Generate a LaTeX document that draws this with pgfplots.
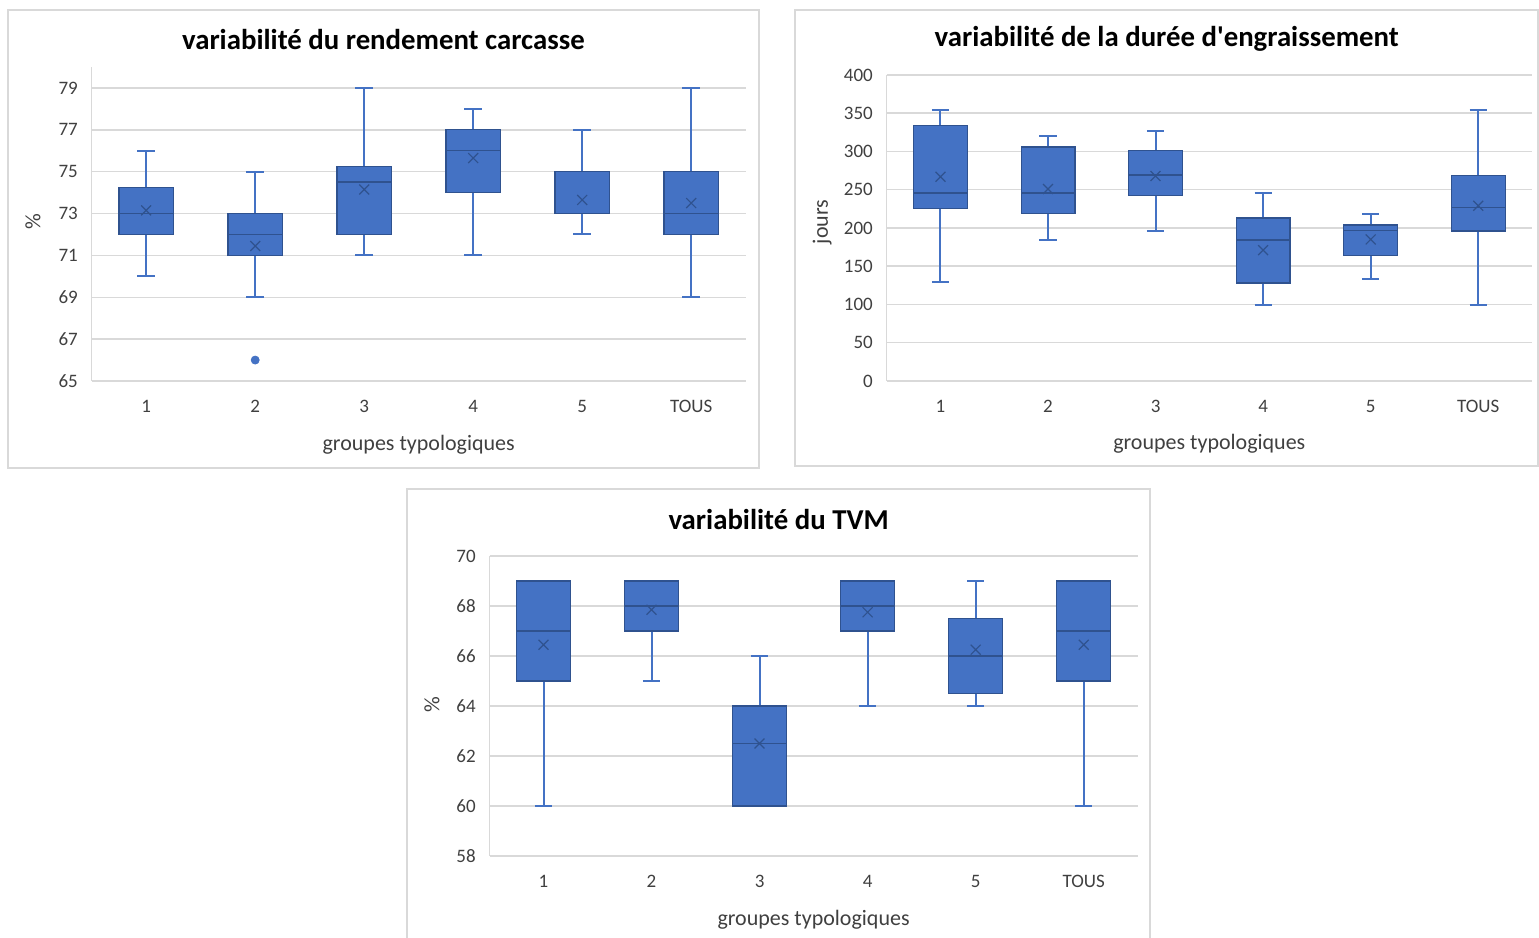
\documentclass[border=0pt]{standalone}
\usepackage{fontspec}
\setmainfont{Carlito}[Ligatures=TeXOff]
\usepackage{pgfplots}
\pgfplotsset{compat=1.18}
\definecolor{bxfill}{HTML}{4472C4}
\definecolor{bxdark}{HTML}{2F528F}
\definecolor{gridc}{HTML}{D9D9D9}
\definecolor{txt}{HTML}{404040}

% \bx{position}{lower whisker}{lower quartile}{median}{upper quartile}{upper whisker}
\newcommand{\bx}[6]{%
  \pgfmathsetmacro\bxl{#1-0.25}\pgfmathsetmacro\bxr{#1+0.25}%
  \pgfmathsetmacro\bcl{#1-0.08}\pgfmathsetmacro\bcr{#1+0.08}%
  \addplot[whisk] coordinates {(#1,#2) (#1,#3)};
  \addplot[whisk] coordinates {(#1,#5) (#1,#6)};
  \addplot[whisk] coordinates {(\bcl,#2) (\bcr,#2)};
  \addplot[whisk] coordinates {(\bcl,#6) (\bcr,#6)};
  \addplot[boxst] coordinates {(\bxl,#3) (\bxr,#3) (\bxr,#5) (\bxl,#5)} -- cycle;
  \addplot[medst] coordinates {(\bxl,#4) (\bxr,#4)};
}

\pgfplotsset{
  whisk/.style={draw=bxfill, line width=1pt, mark=none},
  boxst/.style={fill=bxfill, draw=bxdark, line width=0.6pt, mark=none},
  medst/.style={draw=bxdark, line width=0.75pt, mark=none},
  meanmark/.style={only marks, mark=x, mark size=3.5pt, bxdark, line width=0.6pt},
  xlbox/.style={
    scale only axis,
    xmin=0.5, xmax=6.5,
    xtick={1,...,6}, xticklabels={1,2,3,4,5,TOUS},
    ymajorgrids, grid style={gridc, line width=0.75pt},
    axis x line=bottom, axis y line=left,
    axis line style={gridc, line width=0.75pt, -},
    major tick length=0pt,
    tick label style={font=\fontsize{9.5}{11}\selectfont, text=txt},
    xticklabel style={yshift=-6pt},
    yticklabel style={xshift=-3.4pt},
    label style={font=\fontsize{11}{13}\selectfont, text=txt},
    every axis title shift=0pt,
    title style={font=\fontsize{14.4}{17}\selectfont\bfseries, text=black, anchor=center, yshift=0pt},
    /pgf/number format/assume math mode=true,
  },
}

\begin{document}
\begin{tikzpicture}
\path[use as bounding box, fill=white] (0,0) rectangle (769.5pt,469pt);
\draw[gridc, line width=0.6pt] (4pt,235pt) rectangle (379.5pt,464pt);
\draw[gridc, line width=0.6pt] (397.5pt,236pt) rectangle (769pt,464pt);
\draw[gridc, line width=0.6pt] (203.5pt,-1pt) -- (203.5pt,224.5pt) -- (575pt,224.5pt) -- (575pt,-1pt);

% Panel 1 : rendement carcasse (%)
\begin{axis}[xlbox,
  at={(45.85pt,278.5pt)}, anchor=south west,
  width=327pt, height=157pt,
  ymin=65, ymax=80, ytick={65,67,...,79},
  title={variabilité du rendement carcasse},
  title style={at={(axis description cs:0.446,1.086)}},
  xlabel={groupes typologiques},
  xlabel style={at={(axis description cs:0.5,-0.204)}, anchor=center},
  ylabel={\%},
  ylabel style={at={(axis description cs:-0.09,0.506)}, anchor=center},
]
\bx{1}{70}{72}{73}{74.25}{76}
\bx{2}{69}{71}{72}{73}{75}
\bx{3}{71}{72}{74.5}{75.25}{79}
\bx{4}{71}{74}{76}{77}{78}
\bx{5}{72}{73}{73}{75}{77}
\bx{6}{69}{72}{73}{75}{79}
\addplot[meanmark] coordinates {(1,73.15) (2,71.45) (3,74.15) (4,75.65) (5,73.65) (6,73.5)};
\addplot[only marks, mark=*, mark size=2pt, bxfill] coordinates {(2,66)};
\end{axis}

% Panel 2 : duree d'engraissement (jours)
\begin{axis}[xlbox,
  at={(443.35pt,278.5pt)}, anchor=south west,
  width=322.65pt, height=153pt,
  ymin=0, ymax=400, ytick={0,50,...,400},
  title={variabilité de la durée d'engraissement},
  title style={at={(axis description cs:0.434,1.118)}},
  xlabel={groupes typologiques},
  xlabel style={at={(axis description cs:0.5,-0.206)}, anchor=center},
  ylabel={jours},
  ylabel style={at={(axis description cs:-0.100,0.52)}, anchor=center},
]
\bx{1}{130}{226}{246}{334}{354}
\bx{2}{184}{219}{246}{306}{320}
\bx{3}{196}{243}{269}{301}{327}
\bx{4}{99}{128}{184}{213}{246}
\bx{5}{133}{164}{197}{204}{218}
\bx{6}{99}{196}{227}{269}{354}
\addplot[meanmark] coordinates {(1,267) (2,251) (3,268) (4,171) (5,185) (6,229)};
\end{axis}

% Panel 3 : TVM (%)
\begin{axis}[xlbox,
  at={(244.75pt,41pt)}, anchor=south west,
  width=324.1pt, height=150pt,
  ymin=58, ymax=70, ytick={58,60,...,70},
  title={variabilité du TVM},
  title style={at={(axis description cs:0.446,1.123)}},
  xlabel={groupes typologiques},
  xlabel style={at={(axis description cs:0.5,-0.213)}, anchor=center},
  ylabel={\%},
  ylabel style={at={(axis description cs:-0.0887,0.503)}, anchor=center},
]
\bx{1}{60}{65}{67}{69}{69}
\bx{2}{65}{67}{68}{69}{69}
\bx{3}{60}{60}{62.5}{64}{66}
\bx{4}{64}{67}{68}{69}{69}
\bx{5}{64}{64.5}{66}{67.5}{69}
\bx{6}{60}{65}{67}{69}{69}
\addplot[meanmark] coordinates {(1,66.45) (2,67.85) (3,62.5) (4,67.75) (5,66.25) (6,66.45)};
\end{axis}
\end{tikzpicture}
\end{document}
